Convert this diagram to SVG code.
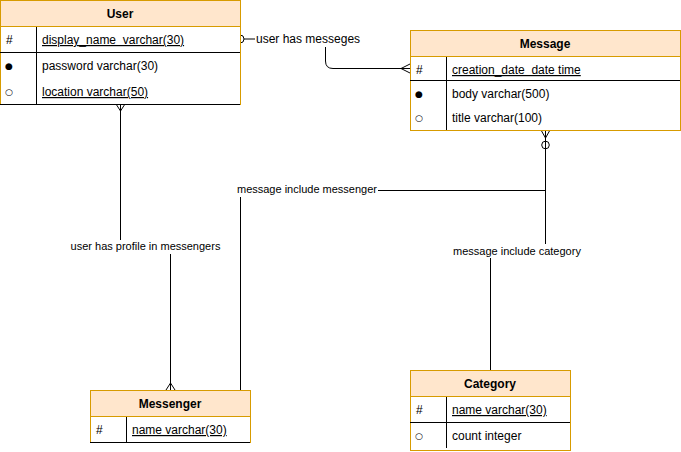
<svg xmlns="http://www.w3.org/2000/svg" width="681" height="452" viewBox="0 0 681 452">
<style>
text{font-family:"Liberation Sans",Arial,sans-serif;font-size:12px;fill:#000;white-space:pre}
.h{font-weight:bold;text-anchor:middle}
.u{text-decoration:underline}
.sym{font-family:"DejaVu Sans",sans-serif;font-size:9px;text-anchor:middle}
.lbl{font-size:11px}
.outer{fill:#fff;stroke:#d79b00;stroke-width:1}
.head{fill:#ffe6cc;stroke:#d79b00;stroke-width:1}
.sep{stroke:#000;stroke-width:1;fill:none}
.c{stroke:#000;stroke-width:1;fill:none}
</style>
<rect width="681" height="452" fill="#fff"/>
<g id="connectors">
  <!-- User - Message -->
  <circle class="c" cx="240" cy="39" r="4" fill="#fff"/>
  <line class="c" x1="244" y1="39" x2="255" y2="39"/>
  <path class="c" d="M325.5,47 V61 Q325.5,68.5 333,68.5 H410"/>
  <path class="c" d="M410,64 L401,68.5 L410,73"/>
  <text x="256" y="43">user has messeges</text>
  <!-- User - Messenger -->
  <path class="c" d="M120.5,104 V240"/>
  <path class="c" d="M116,104 L120.5,111 L125,104"/>
  <path class="c" d="M170.5,254 V390"/>
  <path class="c" d="M166,390 L170.5,383 L175,390"/>
  <text class="lbl" x="145.5" y="250" text-anchor="middle">user has profile in messengers</text>
  <!-- Message - Messenger -->
  <path class="c" d="M545.5,130 V190.5 H378"/>
  <path class="c" d="M541,130 L545.5,138 L550,130"/>
  <circle class="c" cx="545.5" cy="145" r="3.8" fill="#fff"/>
  <path class="c" d="M240.5,197 V390"/>
  <text class="lbl" x="377" y="193" text-anchor="end">message include messenger</text>
  <!-- Message - Category -->
  <path class="c" d="M545.5,190 V244"/>
  <path class="c" d="M490.5,258 V370"/>
  <text class="lbl" x="517" y="255" text-anchor="middle">message include category</text>
</g>
<g id="user">
  <rect class="outer" x="0.5" y="0.5" width="240" height="104"/>
  <rect class="head" x="0.5" y="0.5" width="240" height="26"/>
  <text class="h" x="120" y="18">User</text>
  <line class="sep" x1="0" y1="52.5" x2="240" y2="52.5"/>
  <line class="sep" x1="0" y1="104.5" x2="240" y2="104.5"/>
  <line class="sep" x1="36.5" y1="27" x2="36.5" y2="104"/>
  <text x="6" y="44">#</text>
  <text class="u" x="42" y="44">display_name  varchar(30)</text>
  <text class="sym" x="9" y="69">●</text>
  <text x="42" y="70">password varchar(30)</text>
  <text class="sym" x="9" y="95">○</text>
  <text class="u" x="42" y="96">location varchar(50)</text>
</g>
<g id="message">
  <rect class="outer" x="410.5" y="30.5" width="270" height="100"/>
  <rect class="head" x="410.5" y="30.5" width="270" height="26"/>
  <text class="h" x="545" y="48">Message</text>
  <line class="sep" x1="410" y1="80.5" x2="680" y2="80.5"/>
  <line class="sep" x1="446.5" y1="57" x2="446.5" y2="130"/>
  <text x="416" y="74">#</text>
  <text class="u" x="452" y="74">creation_date  date time</text>
  <text class="sym" x="419" y="97">●</text>
  <text x="452" y="98">body varchar(500)</text>
  <text class="sym" x="419" y="121">○</text>
  <text x="452" y="122">title varchar(100)</text>
</g>
<g id="messenger">
  <rect class="outer" x="90.5" y="390.5" width="160" height="52"/>
  <rect class="head" x="90.5" y="390.5" width="160" height="26"/>
  <text class="h" x="170" y="408">Messenger</text>
  <line class="sep" x1="90" y1="442.5" x2="250" y2="442.5"/>
  <line class="sep" x1="126.5" y1="417" x2="126.5" y2="442"/>
  <text x="96" y="434">#</text>
  <text class="u" x="132" y="434">name varchar(30)</text>
</g>
<g id="category">
  <rect class="outer" x="410.5" y="370.5" width="160" height="80"/>
  <rect class="head" x="410.5" y="370.5" width="160" height="26"/>
  <text class="h" x="490" y="388">Category</text>
  <line class="sep" x1="410" y1="422.5" x2="570" y2="422.5"/>
  <line class="sep" x1="446.5" y1="397" x2="446.5" y2="448"/>
  <text x="416" y="414">#</text>
  <text class="u" x="452" y="414">name varchar(30)</text>
  <text class="sym" x="419" y="439">○</text>
  <text x="452" y="440">count integer</text>
</g>
</svg>
